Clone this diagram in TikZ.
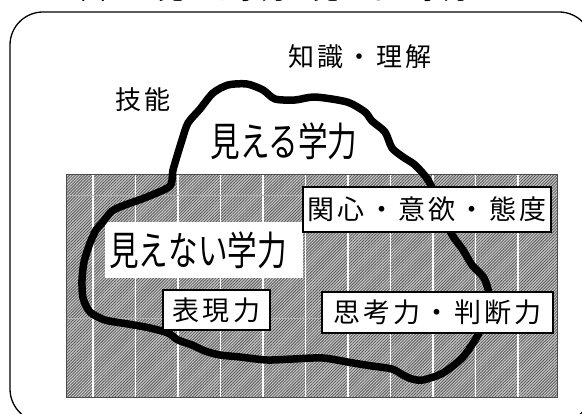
\documentclass[tikz,border=0pt]{standalone}
\usepackage{fontspec}
\newfontfamily\jp{Noto Sans CJK JP}
\newfontfamily\jpbig[FakeStretch=0.74]{Noto Sans CJK JP}
\newfontfamily\jpsp[LetterSpace=12]{Noto Sans CJK JP}
\usetikzlibrary{patterns.meta}
\begin{document}
\begin{tikzpicture}[x=1pt,y=-1pt,
  lbl/.style={draw=black, line width=1.5pt, fill=white, inner sep=0pt, font=\jpsp\fontsize{27}{27}\selectfont},
  bigtxt/.style={inner sep=0pt, font=\jpbig\fontsize{40}{40}\selectfont},
  midtxt/.style={inner sep=0pt, font=\jpsp\fontsize{26}{26}\selectfont},
  gridline/.style={white, line width=1.1pt},
  blob/.style={line width=7.5pt, line join=round, line cap=round}
  ]
\useasboundingbox (0,0) rectangle (582,414);
% cut-off title
\node[inner sep=0pt, font=\jp\fontsize{26}{26}\selectfont] (title) at (275,-10) {図１　見える学力・見えない学力};
% outer frame
\draw[line width=1.3pt, rounded corners=33pt] (10,12) rectangle (592,422);
% hatched field
\fill[black!22] (66,175) rectangle (557,398);
\fill[pattern={Lines[angle=45,distance=2.1pt,line width=0.8pt]}, pattern color=black!65] (66,175) rectangle (557,398);
\foreach \k in {0,...,10} \draw[gridline] ({93+42.5*\k},175) -- ({93+42.5*\k},398);
\draw[black!30, line width=0.8pt] (66,195) -- (557,195);
\draw[black!30, line width=0.8pt] (66,318) -- (557,318);
\draw[black!70, line width=1pt] (66,175) rectangle (557,398);
% white box for invisible ability
\node[fill=white, inner sep=0pt, minimum width=198pt, minimum height=56pt] (mienaibox) at (204,250) {};
% blob
\draw[blob] plot[smooth cycle, tension=0.45] coordinates {
 (102,223) (112,211) (125,205) (147,197) (170,186) (173,170) (182,140) (188,123)
 (200,109) (213,93) (228,85) (247,84) (263,90) (275,99) (295,100) (315,97)
 (347,102) (365,112) (372,121) (385,132) (392,148) (403,157) (415,165) (428,180)
 (440,205) (451,233) (463,250) (472,265) (484,278) (489,295) (486,315)
 (478,335) (463,357) (443,373) (423,380) (412,379) (403,375) (392,369)
 (372,366) (353,363) (323,358) (293,359) (267,360) (240,357) (220,355)
 (205,351) (192,345) (178,340) (168,333) (150,328) (128,324) (105,320) (90,312)
 (83,298) (82,280) (84,262) (90,243) (96,230)};
% texts
\node[bigtxt] (mieru) at (284,141) {見える学力};
\node[bigtxt] (mienai) at (198,250) {見えない学力};
\node[midtxt] (gino) at (143,100) {技能};
\node[midtxt] (chishiki) at (360,57) {知識・理解};
% boxed labels
\node[lbl, minimum width=248pt, minimum height=45pt] (kanshin) at (427,209.5) {関心・意欲・態度};
\node[lbl, minimum width=107pt, minimum height=40pt] (hyogen) at (216.5,310) {表現力};
\node[lbl, minimum width=231pt, minimum height=41pt] (shiko) at (437.5,312.5) {思考力・判断力};
\end{tikzpicture}
\end{document}
